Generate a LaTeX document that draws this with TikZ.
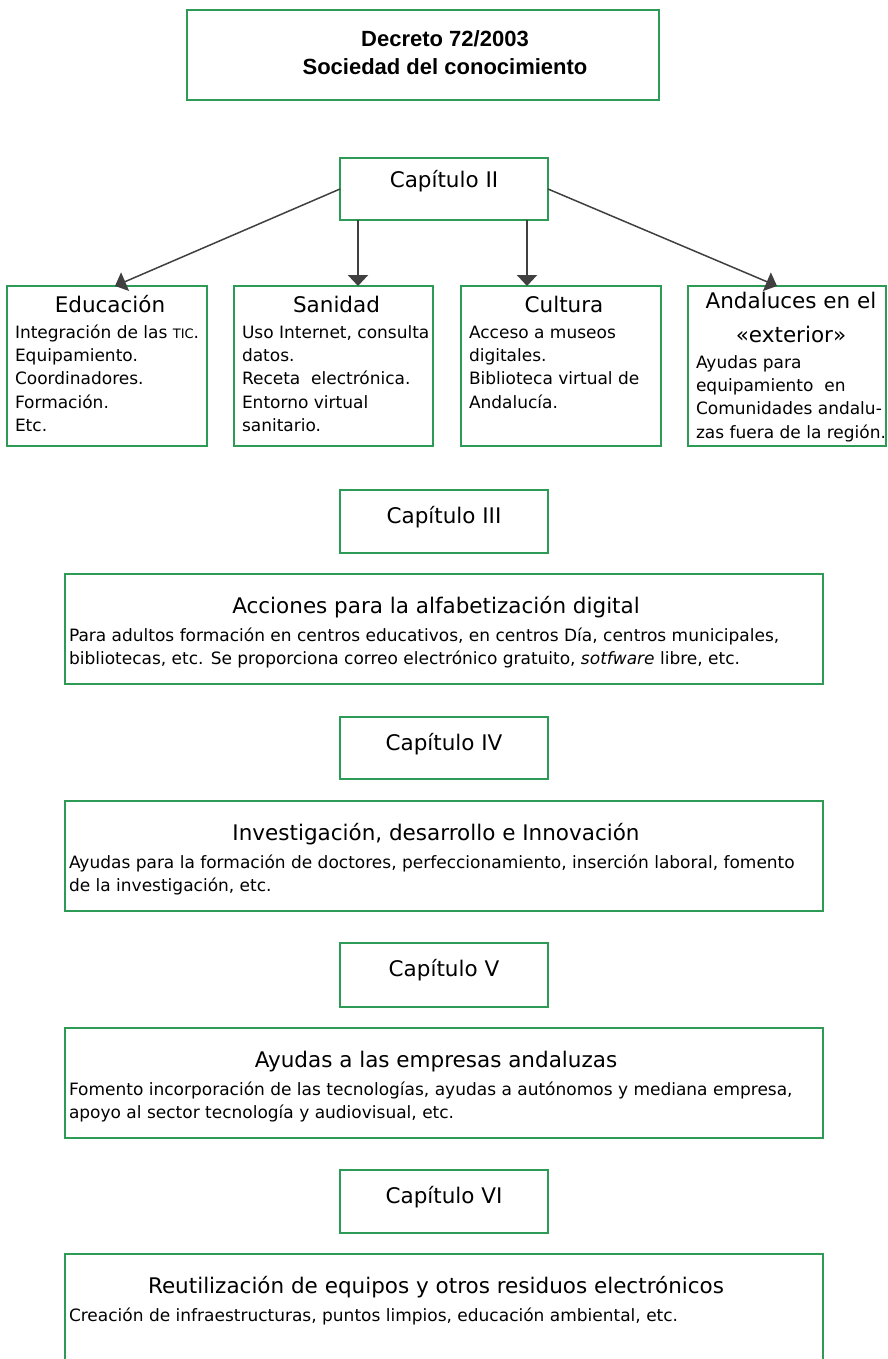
\documentclass[tikz,border=0pt]{standalone}
\usepackage{fontspec}
\setmainfont{DejaVu Sans}
\newfontfamily\titulofont{Liberation Sans}
\usetikzlibrary{arrows.meta,positioning}

\definecolor{verdecaja}{RGB}{45,155,85}
\definecolor{grisflecha}{RGB}{64,64,64}

% padding left, text width, padding right, height, content
\newcommand{\cajatexto}[5]{\hspace*{#1}\parbox[c][#4][t]{#2}{\lineskiplimit=-\maxdimen #5}\hspace*{#3}}
\newcommand{\cabecera}{\fontsize{21.5pt}{34.5pt}\selectfont}
\newcommand{\cuerpo}{\fontsize{17pt}{23.4pt}\selectfont}
\newcommand{\sigla}[1]{{\fontsize{13pt}{12pt}\selectfont #1}}

\begin{document}
\begin{tikzpicture}[x=1pt,y=-1pt,node distance=21pt,
  caja/.style={draw=verdecaja,line width=1.1pt,inner sep=0pt,outer sep=0pt,anchor=north west},
  flecha/.style={-{Triangle[width=20pt,length=11pt]},draw=grisflecha,fill=grisflecha,line width=1.5pt},
  flecha recta/.style={flecha,line width=2.2pt}]
  \useasboundingbox (0,0) rectangle (887,1359);

  % cabecera del decreto
  \node[caja] (decreto) at (187,10) {\cajatexto{44pt}{428pt}{0pt}{90pt}{\titulofont\bfseries\fontsize{22pt}{28pt}\selectfont\centering
    \rule{0pt}{37pt}Decreto 72/2003\\Sociedad del conocimiento}};

  % capitulo II y sus cuatro areas
  \node[caja] (cap2) at (340,158) {\cajatexto{0pt}{208pt}{0pt}{62pt}{\centering\cabecera\rule{0pt}{29pt}Capítulo II}};
  \node[caja] (educ) at (7,286) {\cajatexto{8pt}{190pt}{2pt}{160pt}{\centering\cabecera\rule{0pt}{26pt}Educación\par
    \raggedright\cuerpo\vspace{2.6pt}Integración de las \sigla{TIC}.\\ Equipamiento.\\ Coordinadores.\\ Formación.\\ Etc.}};
  \node[caja,right=27pt of educ] (sani) {\cajatexto{8pt}{189pt}{2pt}{160pt}{\centering\cabecera\rule{0pt}{26pt}Sanidad\par
    \raggedright\cuerpo\vspace{2.6pt}Uso Internet, consulta\\ datos.\\ Receta \ electrónica.\\ Entorno virtual\\ sanitario.}};
  \node[caja,right=28pt of sani] (cult) {\cajatexto{8pt}{190pt}{2pt}{160pt}{\centering\cabecera\rule{0pt}{26pt}Cultura\par
    \raggedright\cuerpo\vspace{2.6pt}Acceso a museos\\ digitales.\\ Biblioteca virtual de\\ Andalucía.}};
  \node[caja,right=27pt of cult] (anda) {\cajatexto{8pt}{190pt}{0pt}{160pt}{\centering\cabecera\rule{0pt}{22pt}Andaluces en el\\«exterior»\par
    \raggedright\cuerpo\vspace{2.1pt}Ayudas para\\ equipamiento \ en\\ Comunidades andalu-\\ zas fuera de la región.}};

  % capitulos III a VI
  \node[caja] (cap3) at (340,490) {\cajatexto{0pt}{208pt}{0pt}{63pt}{\centering\cabecera\rule{0pt}{33pt}Capítulo III}};
  \node[caja,below=of cap3] (alfab) {\cajatexto{4pt}{734pt}{20pt}{110pt}{\centering\cabecera\rule{0pt}{39pt}Acciones para la alfabetización digital\par
    \raggedright\cuerpo\vspace{4.6pt}Para adultos formación en centros educativos, en centros Día, centros municipales,\\
    bibliotecas, etc. Se proporciona correo electrónico gratuito, \textit{sotfware} libre, etc.}};
  \node[caja,below=33pt of alfab] (cap4) {\cajatexto{0pt}{208pt}{0pt}{62pt}{\centering\cabecera\rule{0pt}{33pt}Capítulo IV}};
  \node[caja,below=22pt of cap4] (idi) {\cajatexto{4pt}{734pt}{20pt}{110pt}{\centering\cabecera\rule{0pt}{39pt}Investigación, desarrollo e Innovación\par
    \raggedright\cuerpo\vspace{4.6pt}Ayudas para la formación de doctores, perfeccionamiento, inserción laboral, fomento\\
    de la investigación, etc.}};
  \node[caja,below=32pt of idi] (cap5) {\cajatexto{0pt}{208pt}{0pt}{64pt}{\centering\cabecera\rule{0pt}{33pt}Capítulo V}};
  \node[caja,below=of cap5] (empresas) {\cajatexto{4pt}{734pt}{20pt}{110pt}{\centering\cabecera\rule{0pt}{39pt}Ayudas a las empresas andaluzas\par
    \raggedright\cuerpo\vspace{4.6pt}Fomento incorporación de las tecnologías, ayudas a autónomos y mediana empresa,\\
    apoyo al sector tecnología y audiovisual, etc.}};
  \node[caja,below=32pt of empresas] (cap6) {\cajatexto{0pt}{208pt}{0pt}{63pt}{\centering\cabecera\rule{0pt}{33pt}Capítulo VI}};
  \node[caja,below=of cap6] (residuos) {\cajatexto{4pt}{734pt}{20pt}{130pt}{\centering\cabecera\rule{0pt}{39pt}Reutilización de equipos y otros residuos electrónicos\par
    \raggedright\cuerpo\vspace{4.6pt}Creación de infraestructuras, puntos limpios, educación ambiental, etc.}};

  % flechas del capitulo II
  \coordinate (p-sani) at ([xshift=18pt]cap2.south west);
  \coordinate (p-cult) at ([xshift=-21pt]cap2.south east);
  \draw[flecha] (cap2.west) -- ([xshift=8pt]educ.north);
  \draw[flecha recta] (p-sani) -- (p-sani |- sani.north);
  \draw[flecha recta] (p-cult) -- (p-cult |- cult.north);
  \draw[flecha] (cap2.east) -- ([xshift=-10pt]anda.north);
\end{tikzpicture}
\end{document}
